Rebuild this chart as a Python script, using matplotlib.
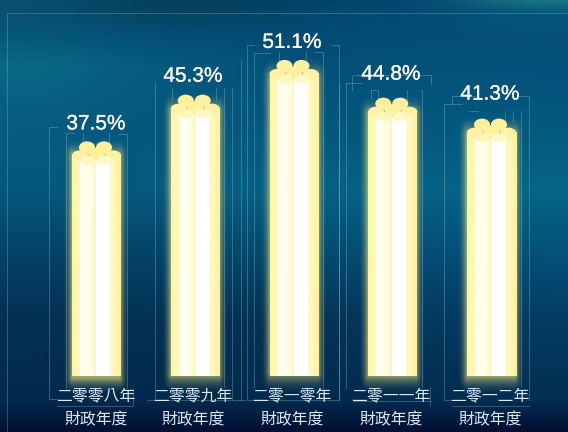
import numpy as np
import matplotlib
matplotlib.use('Agg')
from matplotlib import pyplot as plt
from matplotlib.patches import Ellipse
from matplotlib.colors import to_rgb
import matplotlib.patheffects as pe

years = ['二零零八年', '二零零九年', '二零一零年', '二零一一年', '二零一二年']
values = [37.5, 45.3, 51.1, 44.8, 41.3]
labels = ['37.5%', '45.3%', '51.1%', '44.8%', '41.3%']
suffix = '財政年度'

plt.rcParams['font.family'] = ['Noto Sans CJK TC', 'DejaVu Sans']

W, H = 568, 432
fig = plt.figure(figsize=(W / 100, H / 100), dpi=100)

# background colours, rows sit at bg_y pixels
bg_y = [0, 12, 35, 65, 120, 190, 250, 320, 400, 416, 432]
bg_rows = [
    ['#0a4f70', '#04405f', '#033e5e', '#03446a', '#04436e', '#1a7a82'],
    ['#08506f', '#04445f', '#034362', '#034a70', '#034a74', '#05587c'],
    ['#06587a', '#044e74', '#044c72', '#034c74', '#034e78', '#035078'],
    ['#0a6a86', '#055a80', '#04547c', '#034f78', '#03527a', '#03507a'],
    ['#075c80', '#04587e', '#04587e', '#04567c', '#04567e', '#04587e'],
    ['#05587c', '#05587c', '#066084', '#066286', '#066286', '#066688'],
    ['#034468', '#034468', '#034a6c', '#034c72', '#034e78', '#03527a'],
    ['#033054', '#033054', '#033252', '#033456', '#033a60', '#033c62'],
    ['#032a4e', '#032a4c', '#032a4c', '#032a4c', '#032c50', '#032e52'],
    ['#021c40', '#021c40', '#021c40', '#021c40', '#021c40', '#021e42'],
    ['#010e30', '#010e30', '#010e30', '#010e30', '#010e30', '#010e30'],
]
bg_cols = np.array([[to_rgb(c) for c in row] for row in bg_rows])
bg = np.stack([np.stack([np.interp(np.arange(H), bg_y, bg_cols[:, c, k]) for k in range(3)], axis=1)
               for c in range(bg_cols.shape[1])], axis=1)
ax_bg = fig.add_axes([0, 0, 1, 1])
ax_bg.imshow(bg, aspect='auto', interpolation='bicubic', extent=[0, W, H, 0])
ax_bg.axis('off')

# main axes, scale is about 6 px per percent, baseline at y=376 px
px_x = 98.75
px_y = 5.99
ax = fig.add_axes([0, 0, 1, 1], facecolor='none')
ax.axis('off')
dx = 1 / px_x
dy = 1 / px_y
line_col = '#9fc4d4'


def px_line(xs, ys, alpha=0.38):
    ax.plot([(x - 96) * dx for x in xs], [(376 - y) * dy for y in ys],
            color=line_col, lw=0.6, alpha=alpha, zorder=1, solid_joinstyle='miter')


# outer frame
px_line([7, 7, W], [H, 13, 13], 0.35)

# thin frame pieces, bar by bar
frame = [
    [([57, 49, 49, 57], [127, 127, 399, 399]), ([74, 66, 66], [133, 133, 388]),
     ([118, 127, 127], [134, 134, 388]), ([57, 133, 133], [406, 406, 389]),
     ([83, 83], [133, 147]), ([109, 109], [133, 147])],
    [([155, 155], [82, 400]), ([147, 245], [400, 400]), ([172, 172], [88, 100]),
     ([216, 216], [88, 100]), ([224, 224], [88, 387]), ([232, 232], [88, 400]),
     ([241, 241], [60, 400])],
    [([254, 247, 247, 254], [45, 45, 400, 400]), ([270, 254, 254], [53, 53, 388]),
     ([314, 323, 323], [52, 52, 388]), ([331, 339, 339], [45, 45, 400]),
     ([254, 338], [400, 400]), ([279, 279], [52, 66]), ([306, 306], [52, 66])],
    [([353, 431, 431], [75, 75, 84]), ([346, 362], [83, 83]), ([352, 352], [76, 90]),
     ([371, 378, 378], [90, 90, 98]), ([371, 371], [90, 98]), ([339, 339], [83, 400]),
     ([346, 346], [83, 388]), ([407, 407], [90, 100]), ([421, 422, 422], [90, 90, 387]),
     ([353, 430], [401, 401]), ([430, 430], [387, 406])],
    [([475, 452, 452], [96, 96, 104]), ([519, 529, 529], [96, 96, 400]),
     ([462, 444, 444, 452], [104, 104, 400, 400]), ([469, 478], [111, 111]),
     ([505, 505], [111, 122]), ([513, 513], [111, 122]), ([521, 521], [111, 387]),
     ([452, 529], [406, 406])],
]
label_off = [27.5, 28.5, 27.5, 33.5, 34.5]
text_x = [96, 193, 292, 391, 490]


def horiz_grad(stops):
    xs = np.linspace(0, 1, 64)
    pos = [s[0] for s in stops]
    cols = np.array([to_rgb(s[1]) for s in stops])
    return np.stack([np.interp(xs, pos, cols[:, i]) for i in range(3)], axis=1)[None, :, :]


side = [(0, '#fff6a0'), (0.5, '#fff8c0'), (1, '#fff09a')]
front_l = [(0, '#fffef2'), (0.7, '#fffde8'), (1, '#fff4b8')]
front_r = [(0, '#ffffff'), (0.85, '#ffffff'), (1, '#fff6aa')]

gy, gx = np.mgrid[0:200, 0:200]
for i, v in enumerate(values):
    # glow
    ex = np.clip((np.abs(gx - 99.5) - 70) / 30, 0, 1)
    ey = np.clip((np.abs(gy - 99.5) - 86) / 14, 0, 1)
    a = np.clip(1 - np.sqrt(ex ** 2 + ey ** 2), 0, 1) ** 2.2
    glow = np.zeros((200, 200, 4))
    glow[..., :3] = to_rgb('#e8e07c')
    glow[..., 3] = a * 0.68
    ax.imshow(glow, extent=[i - 34 * dx, i + 34 * dx, -20 * dy, v + 14 * dy],
              aspect='auto', zorder=2, interpolation='bilinear')

    for xs, ys in frame[i]:
        px_line(xs, ys)

    top = v
    # back row caps
    for off in [-9, 8]:
        ax.add_patch(Ellipse((i + off * dx, top + 4 * dy), 16 * dx, 12 * dy, fc='#fff09c', ec='none', zorder=3))
    ax.add_patch(Ellipse((i + 0.5 * dx, top - 2 * dy), 17 * dx, 11 * dy, fc='#fff09a', ec='none', zorder=3))

    # outer cylinders
    for x0, x1, grad in [(-24, -8, side), (9, 25, side)]:
        ax.imshow(horiz_grad(grad), extent=[i + x0 * dx, i + x1 * dx, 0, top - 4 * dy],
                  aspect='auto', zorder=4)
        ax.add_patch(Ellipse((i + (x0 + x1) / 2 * dx, top - 4 * dy), (x1 - x0) * dx, 10 * dy,
                             fc='#fff2a4', ec='none', zorder=4))

    # front cylinders
    for x0, x1, grad, cap in [(-16, 0, front_l, '#fff6bc'), (0, 16, front_r, '#fff8c4')]:
        ax.imshow(horiz_grad(grad), extent=[i + x0 * dx, i + x1 * dx, 0, top - 9 * dy],
                  aspect='auto', zorder=5)
        ax.add_patch(Ellipse((i + (x0 + x1) / 2 * dx, top - 9 * dy), (x1 - x0) * dx, 9 * dy,
                             fc=cap, ec='none', zorder=5))

    tx = (text_x[i] - 96) * dx
    ax.text(tx, top + label_off[i] * dy, labels[i], color='white', fontsize=15, ha='center', va='center',
            family=['Liberation Sans'], zorder=6,
            path_effects=[pe.withStroke(linewidth=0.15, foreground='white')])
    ax.text(tx, -20 * dy, years[i], color='#dfe9ee', fontsize=11.4, ha='center', va='center', zorder=6)
    ax.text(tx, -44 * dy, suffix, color='#dfe9ee', fontsize=11.4, ha='center', va='center', zorder=6)

ax.set_xlim(-96 / px_x, (W - 96) / px_x)
ax.set_ylim(-(H - 376) / px_y, 376 / px_y)
fig.savefig('out.png', dpi=100)
